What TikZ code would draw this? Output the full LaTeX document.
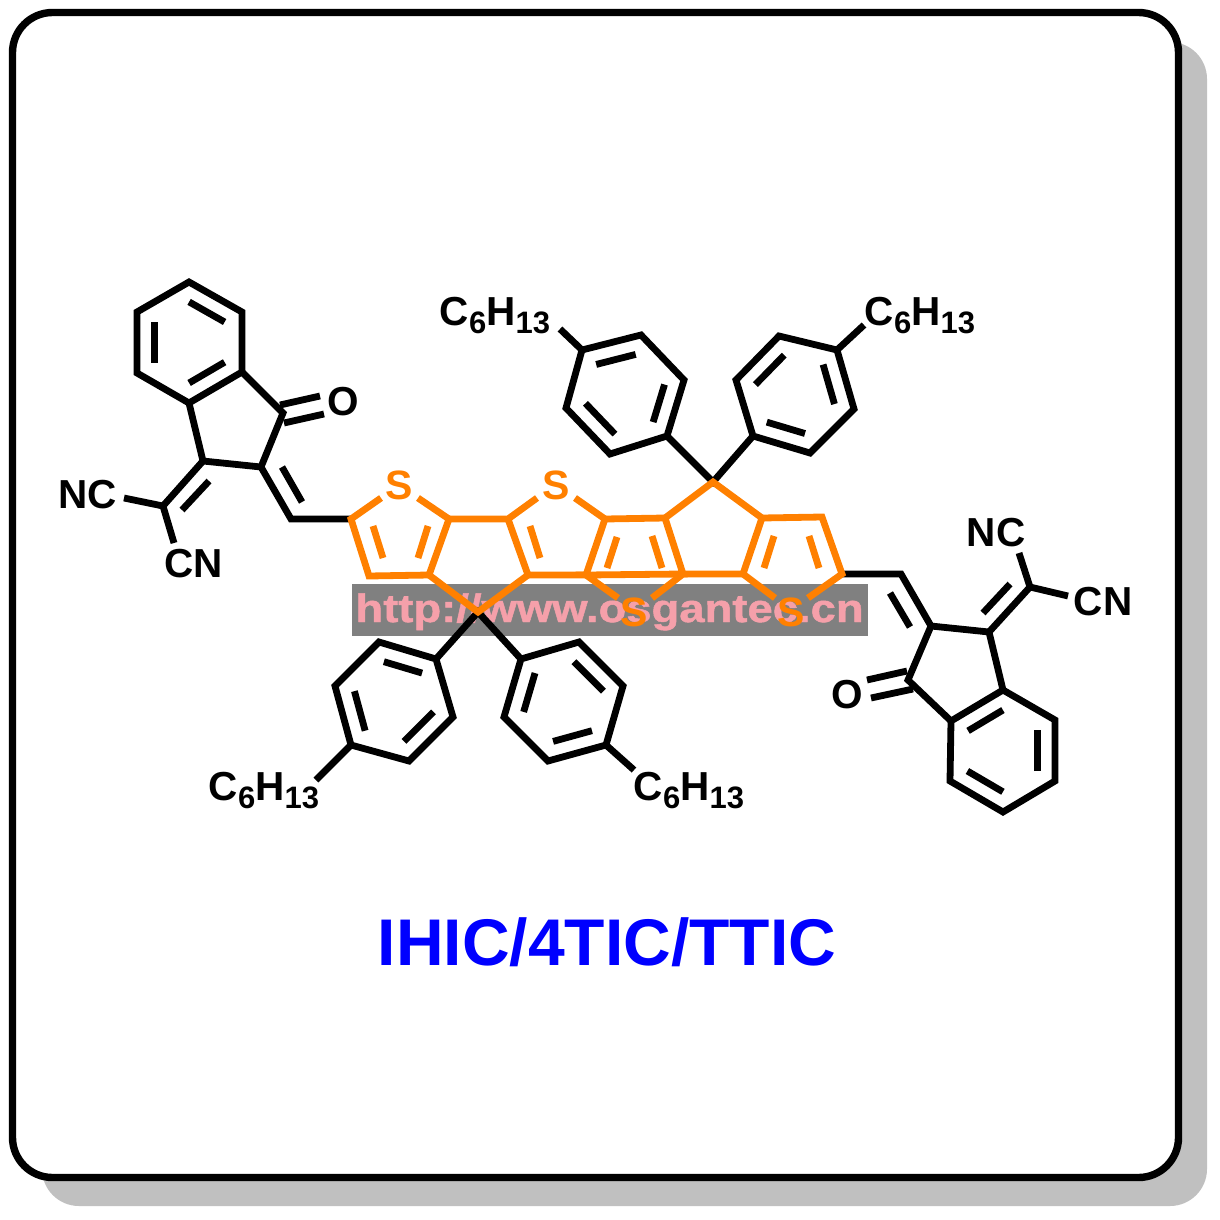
\documentclass[tikz,border=0pt]{standalone}
\usepackage{fontspec}
\setmainfont{Liberation Sans}
\newfontfamily\wmfont[FakeStretch=1.15,FakeBold=1.2]{Liberation Sans}
\usetikzlibrary{calc}
\definecolor{orangeC}{RGB}{255,128,0}
\definecolor{shadowC}{RGB}{192,192,192}
\definecolor{wmgray}{RGB}{128,128,128}
\definecolor{wmpink}{RGB}{245,160,170}
\newcommand{\atoms}[1]{\foreach \n/\p in {#1}{\coordinate (\n) at (\p);}}
\newcommand{\innerbond}[3]{\draw[bond] ($(#1)!.67!(#2)$) -- ($(#1)!.67!(#3)$);}
\newcommand{\hexring}[7]{%
  \coordinate (#1) at ($1/6*(#2)+1/6*(#3)+1/6*(#4)+1/6*(#5)+1/6*(#6)+1/6*(#7)$);
  \draw[bond] (#2) -- (#3) -- (#4) -- (#5) -- (#6) -- (#7) -- cycle;}
\newcommand{\lab}[3]{\node[atomlabel] (#1) at (#2) {#3};}
\newcommand{\hexyl}[2]{\node[atomlabel] (#1) at (#2) {C\raisebox{-8pt}{\fontsize{31}{31}\selectfont 6}H\raisebox{-8pt}{\fontsize{31}{31}\selectfont 13}};}
\begin{document}
\begin{tikzpicture}[x=1pt,y=-1pt,
  bond/.style={line width=6.8pt,line join=miter,line cap=butt,black},
  obond/.style={line width=6.8pt,line join=miter,line cap=butt,orangeC},
  atomlabel/.style={inner sep=0pt,font=\fontsize{40.5}{40}\selectfont\bfseries,black},
  slabel/.style={inner sep=0pt,font=\fontsize{41}{40}\selectfont\bfseries,orangeC}]
\useasboundingbox (0,0) rectangle (1220,1220);
% card
\fill[shadowC,rounded corners=37pt] (42,42) rectangle (1207,1206);
\draw[black,fill=white,line width=7.4pt,rounded corners=40pt] (12.5,12.5) rectangle (1178.5,1177.5);
% watermark plate
\fill[wmgray] (352,584) rectangle (868,636);
\node[inner sep=0pt,anchor=base,text=wmpink,font=\wmfont\fontsize{39.5}{40}\selectfont\bfseries] (wm) at (609.5,622) {http://www.osgantec.cn};
% left acceptor
\atoms{a1/{189,282},a2/{137,312},a3/{137,373},a4/{189,403},a5/{242,372},a6/{242,312},
 a7/{203,461},a8/{261,467},a9/{283,413},a10/{291,519},a11/{163,506},
 a12/{280,405},a13/{320,396},a14/{284,423},a15/{324,414},a16/{124,498},a17/{174,543},
 a18/{282,467},a19/{302,502},a20/{209,481},a21/{182,510}}
\hexring{aO}{a1}{a2}{a3}{a4}{a5}{a6}
\innerbond{aO}{a1}{a6}\innerbond{aO}{a2}{a3}\innerbond{aO}{a4}{a5}
\draw[bond] (a4) -- (a7) -- (a8) -- (a9) -- (a5);
\draw[bond] (a12) -- (a13) (a14) -- (a15);
\draw[bond] (a18) -- (a19) (a20) -- (a21);
\draw[bond] (a16) -- (a11) -- (a17);
\draw[bond] (a7) -- (a11);
% right acceptor
\atoms{b1/{1003,812},b2/{1055,781},b3/{1055,720},b4/{1003,690},b5/{951,721},b6/{950,781},
 b7/{989,632},b8/{931,626},b9/{908,680},b10/{901,574},b11/{1030,587},
 b12/{907,671},b13/{867,680},b14/{913,689},b15/{871,698},b16/{1068,596},b17/{1019,553},
 b18/{890,593},b19/{910,627},b20/{1010,584},b21/{983,613}}
\hexring{bO}{b1}{b2}{b3}{b4}{b5}{b6}
\innerbond{bO}{b1}{b6}\innerbond{bO}{b2}{b3}\innerbond{bO}{b4}{b5}
\draw[bond] (b4) -- (b7) -- (b8) -- (b9) -- (b5);
\draw[bond] (b12) -- (b13) (b14) -- (b15);
\draw[bond] (b18) -- (b19) (b20) -- (b21);
\draw[bond] (b16) -- (b11) -- (b17);
\draw[bond] (b7) -- (b11);
% aryl rings
\atoms{l1/{436,659},l2/{379,642},l3/{335,686},l4/{351,745},l5/{409,761},l6/{453,717},l7/{316,780},
 r1/{521,659},r2/{579,642},r3/{623,686},r4/{606,745},r5/{548,761},r6/{504,717},r7/{634,770},
 t1/{667,436},t2/{610,454},t3/{566,408},t4/{582,350},t5/{641,335},t6/{684,380},t7/{560,329},
 u1/{753,436},u2/{736,380},u3/{779,336},u4/{837,350},u5/{854,409},u6/{810,453},u7/{864,325},
 sA/{478,612},sB/{713,482}}
\hexring{lO}{l1}{l2}{l3}{l4}{l5}{l6}
\innerbond{lO}{l1}{l2}\innerbond{lO}{l3}{l4}\innerbond{lO}{l5}{l6}
\hexring{rO}{r1}{r2}{r3}{r4}{r5}{r6}
\innerbond{rO}{r2}{r3}\innerbond{rO}{r4}{r5}\innerbond{rO}{r6}{r1}
\hexring{tO}{t1}{t2}{t3}{t4}{t5}{t6}
\innerbond{tO}{t1}{t6}\innerbond{tO}{t2}{t3}\innerbond{tO}{t4}{t5}
\hexring{uO}{u1}{u2}{u3}{u4}{u5}{u6}
\innerbond{uO}{u2}{u3}\innerbond{uO}{u4}{u5}\innerbond{uO}{u6}{u1}
\draw[bond] (l4) -- (l7) (r4) -- (r7) (t4) -- (t7) (u4) -- (u7);
\draw[bond] (l1) -- (sA) -- (r1) (t1) -- (sB) -- (u1);
% core
\atoms{c1/{351,519},c2/{381,498},c3/{418,498},c4/{449,519},c5/{429,575},c6/{369,576},
 c7/{508,519},c8/{537,498},c9/{575,498},c10/{605,519},c11/{528,575},c12/{586,575},
 c13/{618,598},c14/{652,598},c15/{683,574},c16/{665,518},c17/{743,574},c18/{762,518},
 c19/{775,598},c20/{808,598},c21/{842,574},c22/{822,517}}
\draw[bond] (a8) -- (a10) -- (c1);
\draw[bond] (c21) -- (b10) -- (b8);
\draw[obond] (c2) -- (c1) -- (c6) -- (c5) -- (c4) -- (c3);
\draw[obond] (c4) -- (c7) -- (c8);
\draw[obond] (c7) -- (c11) -- (c12) -- (c10) -- (c9);
\draw[obond] (c10) -- (c16) -- (c15) -- (c12) -- (c13);
\draw[obond] (c14) -- (c15) -- (c17) -- (c18) -- (c22) -- (c21) -- (c20);
\draw[obond] (c19) -- (c17);
\draw[obond] (c5) -- (sA) -- (c11);
\draw[obond] (c16) -- (sB) -- (c18);
\foreach \p/\q in {{373,526}/{383,558},{428,526}/{418,558},{530,526}/{540,558},{617,537}/{607,568},
 {652,536}/{662,568},{774,536}/{764,568},{809,536}/{819,568}}{\draw[obond] (\p) -- (\q);}
% labels
\node[slabel] (S1) at (399,485) {S};
\node[slabel] (S2) at (556,485) {S};
\node[slabel] (S3) at (634,612) {S};
\node[slabel] (S4) at (791,612) {S};
\lab{O1}{343,402}{O}
\lab{O2}{847,695}{O}
\lab{NC1}{88,495}{NC}
\lab{CN1}{194,564}{CN}
\lab{NC2}{996,533}{NC}
\lab{CN2}{1103,602}{CN}
\hexyl{H1}{495,316}
\hexyl{H2}{920,316}
\hexyl{H3}{264,791}
\hexyl{H4}{689,791}
\node[inner sep=0pt,text=blue,font=\fontsize{66}{66}\selectfont\bfseries] (title) at (607,942) {IHIC/4TIC/TTIC};
\end{tikzpicture}
\end{document}
